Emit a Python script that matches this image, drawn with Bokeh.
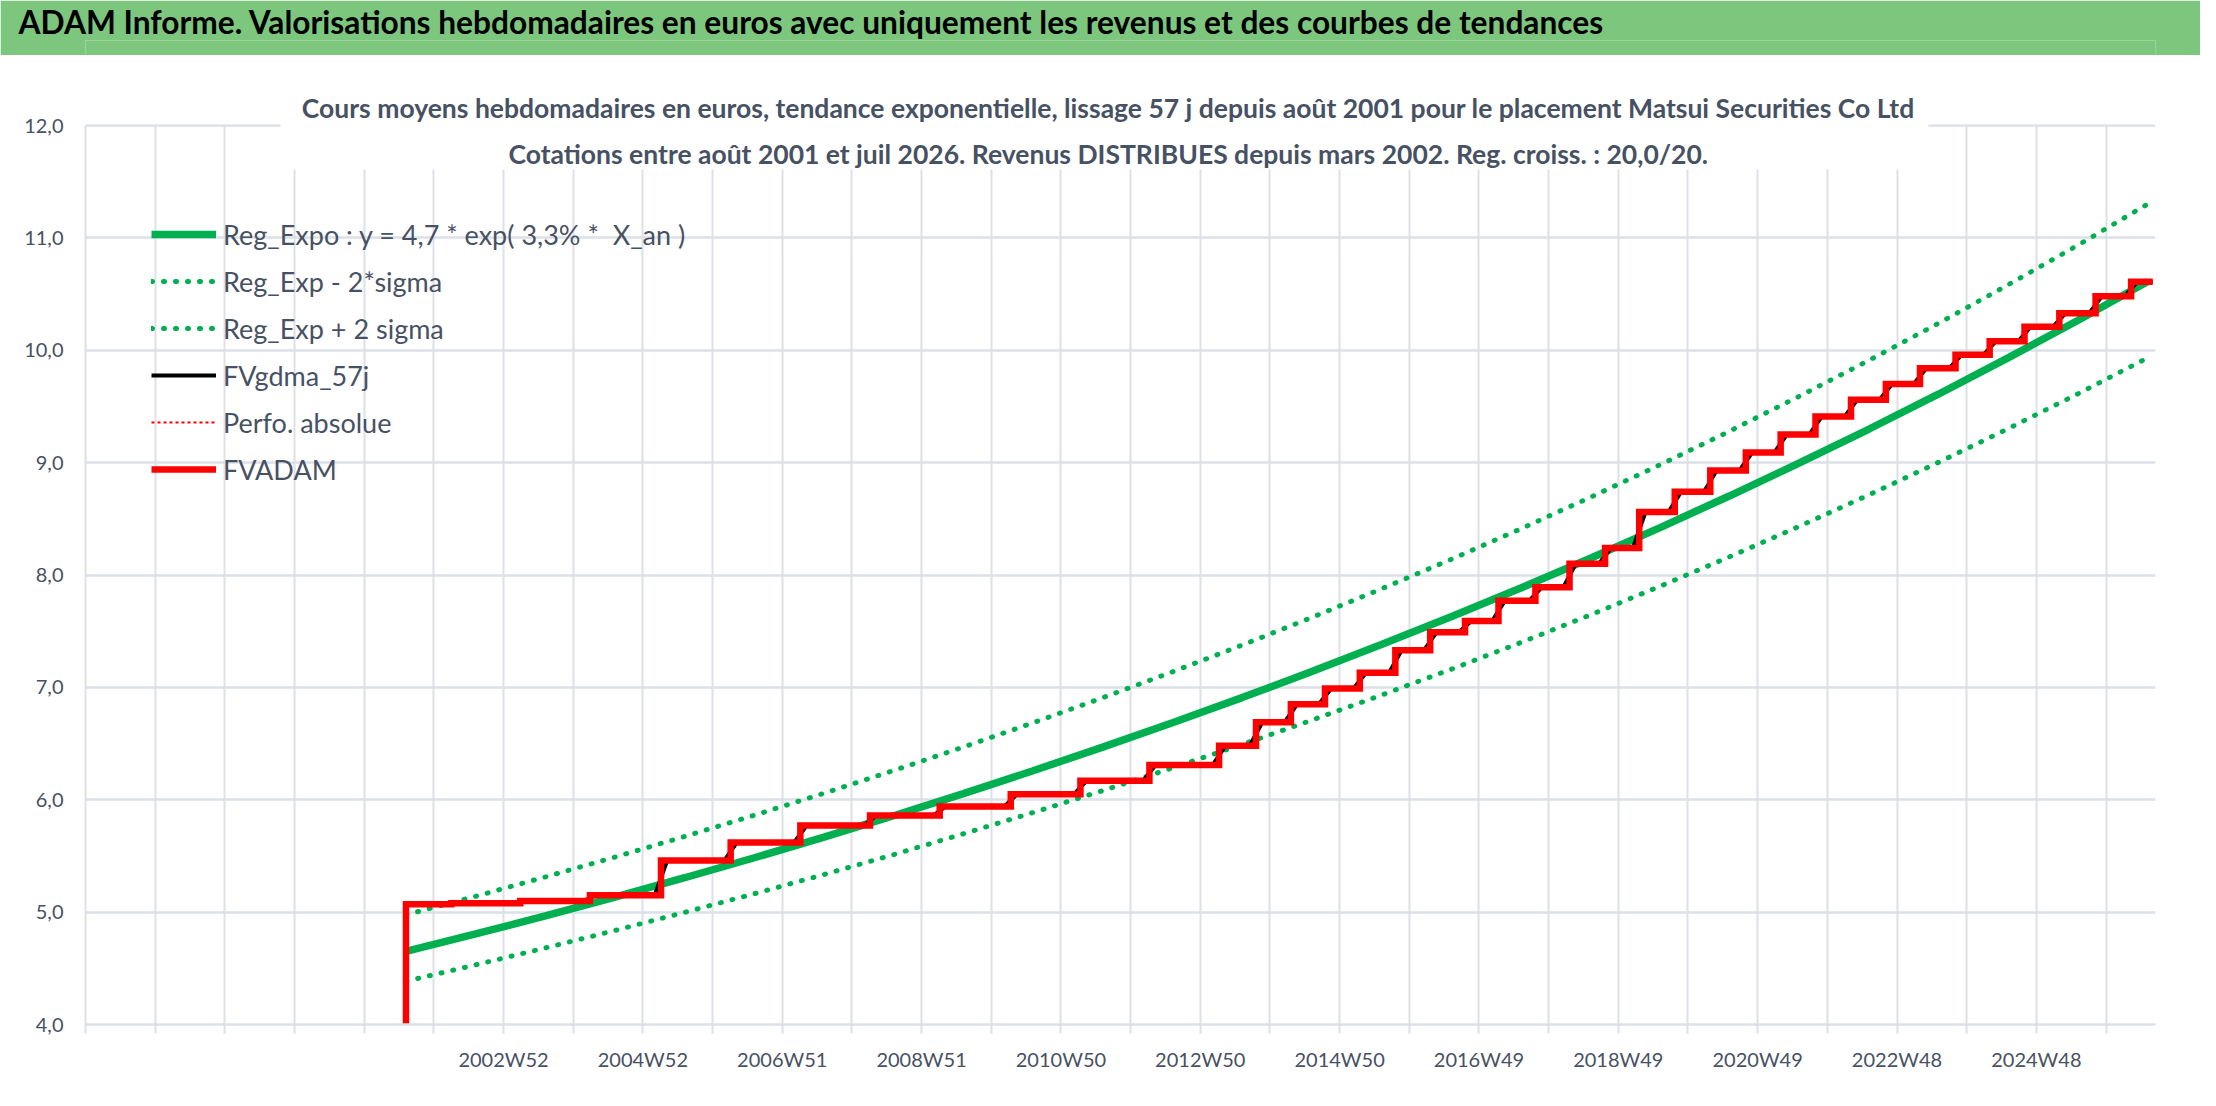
from bokeh.plotting import figure
from bokeh.models import Range1d, FixedTicker, Label, BoxAnnotation, Legend, LegendItem
from bokeh.layouts import column
from bokeh.embed import file_html
from bokeh.resources import INLINE

# ---------------- texts ----------------
HEADER = "ADAM Informe. Valorisations hebdomadaires en euros avec uniquement les revenus et des courbes de tendances"
TITLE_1 = ("Cours moyens hebdomadaires en euros, tendance exponentielle, lissage 57 j depuis août 2001 "
           "pour le placement Matsui Securities Co Ltd")
TITLE_2 = "Cotations entre août 2001 et juil 2026. Revenus DISTRIBUES depuis mars 2002. Reg. croiss. : 20,0/20."

# ---------------- axes ----------------
y_ticks = [4, 5, 6, 7, 8, 9, 10, 11, 12]
y_tick_labels = ["4,0", "5,0", "6,0", "7,0", "8,0", "9,0", "10,0", "11,0", "12,0"]
x_grid_years = [1997, 1998, 1999, 2000, 2001, 2002, 2003, 2004, 2005, 2006, 2007, 2008, 2009, 2010,
                2011, 2012, 2013, 2014, 2015, 2016, 2017, 2018, 2019, 2020, 2021, 2022, 2023, 2024,
                2025, 2026]
x_label_years = [2003, 2005, 2007, 2009, 2011, 2013, 2015, 2017, 2019, 2021, 2023, 2025]
x_tick_labels = ["2002W52", "2004W52", "2006W51", "2008W51", "2010W50", "2012W50", "2014W50",
                 "2016W49", "2018W49", "2020W49", "2022W48", "2024W48"]

# ---------------- series (years as decimal) ----------------
trend_years = [2001.6, 2002.6, 2003.6, 2004.6, 2005.6, 2006.6, 2007.6, 2008.6, 2009.6, 2010.6,
               2011.6, 2012.6, 2013.6, 2014.6, 2015.6, 2016.6, 2017.6, 2018.6, 2019.6, 2020.6,
               2021.6, 2022.6, 2023.6, 2024.6, 2025.6, 2026.6]
reg_expo = [4.650, 4.806, 4.967, 5.134, 5.306, 5.484, 5.668, 5.858, 6.055, 6.258,
            6.468, 6.685, 6.909, 7.141, 7.381, 7.628, 7.884, 8.149, 8.422, 8.705,
            8.997, 9.299, 9.611, 9.934, 10.267, 10.612]
reg_upper = [4.976, 5.141, 5.313, 5.490, 5.673, 5.862, 6.058, 6.260, 6.469, 6.685,
             6.908, 7.138, 7.376, 7.622, 7.877, 8.139, 8.411, 8.692, 8.981, 9.281,
             9.591, 9.911, 10.241, 10.584, 10.936, 11.302]
reg_lower = [4.385, 4.531, 4.681, 4.837, 4.998, 5.164, 5.335, 5.512, 5.697, 5.886,
             6.081, 6.283, 6.492, 6.708, 6.931, 7.161, 7.399, 7.645, 7.900, 8.163,
             8.434, 8.714, 9.004, 9.304, 9.613, 9.933]

fv_years = [2001.60, 2001.60, 2002.25, 2003.24, 2004.24, 2005.26, 2006.26, 2007.26, 2008.26,
            2009.26, 2010.28, 2011.28, 2012.27, 2013.27, 2013.80, 2014.30, 2014.79, 2015.29,
            2015.80, 2016.30, 2016.80, 2017.28, 2017.81, 2018.30, 2018.81, 2019.30, 2019.81,
            2020.32, 2020.83, 2021.33, 2021.83, 2022.34, 2022.84, 2023.33, 2023.84, 2024.33,
            2024.83, 2025.33, 2025.85, 2026.36, 2026.67]
fv_values = [0.00, 5.07, 5.08, 5.10, 5.15, 5.46, 5.62, 5.77, 5.86,
             5.94, 6.05, 6.17, 6.31, 6.48, 6.69, 6.85, 6.99, 7.13,
             7.33, 7.49, 7.59, 7.77, 7.89, 8.10, 8.24, 8.56, 8.74,
             8.93, 9.09, 9.25, 9.41, 9.56, 9.70, 9.84, 9.96, 10.08,
             10.21, 10.33, 10.48, 10.61, 10.61]

# smoothed (57 days) valuation: same levels, transitions spread around each step
gdma_levels = fv_values[1:]
gdma_steps = fv_years[1:]
gdma_half_window = 0.09
gdma_x, gdma_y = [gdma_steps[0]], [gdma_levels[0]]
for i in range(1, len(gdma_steps) - 1):
    gdma_x += [gdma_steps[i] - gdma_half_window, gdma_steps[i] + gdma_half_window]
    gdma_y += [gdma_levels[i - 1], gdma_levels[i]]
gdma_x.append(gdma_steps[-1])
gdma_y.append(gdma_levels[-1])

# ---------------- styles ----------------
FONT = "Lato"
TXT = "#475164"
GRID = "#DCE0E7"
GREEN = "#00B050"
RED = "#FF0000"
HEADER_GREEN = "#7DC67E"

# ---------------- header (green band, title text in the title panel) ----------------
h = figure(width=2200, height=55, x_range=Range1d(0, 1), y_range=Range1d(0, 1),
           output_backend="svg", toolbar_location=None,
           min_border_left=85, min_border_right=45, min_border_top=10, min_border_bottom=0,
           x_axis_location=None, y_axis_location=None)
h.grid.visible = False
h.outline_line_color = None
h.background_fill_color = HEADER_GREEN
h.border_fill_color = HEADER_GREEN
h.title.text = HEADER
h.title.align = "left"
h.title.offset = -67
h.title.standoff = 0
h.title.text_font = FONT
h.title.text_font_style = "bold"
h.title.text_font_size = "31.7px"
h.title.text_color = "#000000"

# ---------------- main chart ----------------
PX_PER_UNIT = 112.375
p = figure(width=2200, height=1035, x_range=Range1d(1997.0, 2026.71),
           y_range=Range1d(4, 4 + 954 / PX_PER_UNIT),
           output_backend="svg", toolbar_location=None,
           min_border_left=85, min_border_right=45, min_border_top=15, min_border_bottom=66)
p.outline_line_color = None
p.background_fill_color = "white"
p.border_fill_color = "white"

yt = FixedTicker(ticks=y_ticks)
p.yaxis.ticker = yt
p.ygrid.ticker = yt
p.yaxis.major_label_overrides = dict(zip(y_ticks, y_tick_labels))
p.yaxis.bounds = (4, 12)
p.yaxis.axis_line_color = GRID
p.yaxis.axis_line_width = 2
p.yaxis.major_tick_line_color = None
p.yaxis.minor_tick_line_color = None
p.yaxis.major_label_standoff = 16
p.yaxis.major_label_text_font = FONT
p.yaxis.major_label_text_font_size = "20px"
p.yaxis.major_label_text_color = TXT

xt = FixedTicker(ticks=x_grid_years)
p.xaxis.ticker = xt
p.xgrid.ticker = xt
x_over = {yr: "" for yr in x_grid_years}
x_over.update(dict(zip(x_label_years, x_tick_labels)))
p.xaxis.major_label_overrides = x_over
p.xaxis.axis_line_color = GRID
p.xaxis.axis_line_width = 2.5
p.xaxis.major_tick_line_color = GRID
p.xaxis.major_tick_line_width = 2
p.xaxis.major_tick_out = 9
p.xaxis.major_tick_in = 0
p.xaxis.minor_tick_line_color = None
p.xaxis.major_label_standoff = 13
p.xaxis.major_label_text_font = FONT
p.xaxis.major_label_text_font_size = "20px"
p.xaxis.major_label_text_color = TXT

p.ygrid.grid_line_color = GRID
p.ygrid.grid_line_width = 2.5
p.ygrid.bounds = (3.9, 12.1)
p.xgrid.grid_line_color = GRID
p.xgrid.grid_line_width = 2
p.xgrid.bounds = (1996.9, 2027.0)

r_low = p.line(trend_years, reg_lower, line_color=GREEN, line_width=5, line_dash="1 11", line_cap="round")
r_up = p.line(trend_years, reg_upper, line_color=GREEN, line_width=5, line_dash="1 11", line_cap="round")
r_reg = p.line(trend_years, reg_expo, line_color=GREEN, line_width=7.5)
r_gdma = p.line(gdma_x, gdma_y, line_color="#000000", line_width=4)
r_perf = p.step(fv_years, fv_values, mode="after", line_color=RED, line_width=2, line_dash="3 3")
r_fv = p.step(fv_years, fv_values, mode="after", line_color=RED, line_width=6.5, line_join="miter")

# white strip above the 12,0 gridline and white box behind the chart title (hide gridlines)
p.add_layout(BoxAnnotation(bottom=12.012, fill_color="white", fill_alpha=1.0, line_color=None))
p.add_layout(BoxAnnotation(left=1999.80, right=2023.45, bottom=11.608, top=12.02,
                           fill_color="white", fill_alpha=1.0, line_color=None))
for txt, yv in ((TITLE_1, 12.16), (TITLE_2, 11.742)):
    p.add_layout(Label(x=2011.68, y=yv, text=txt, text_align="center", text_baseline="alphabetic",
                       text_font=FONT, text_font_style="bold", text_font_size="26.5px", text_color=TXT))

legend = Legend(items=[
    LegendItem(label="Reg_Expo : y = 4,7 * exp( 3,3% *  X_an )", renderers=[r_reg]),
    LegendItem(label="Reg_Exp - 2*sigma", renderers=[r_low]),
    LegendItem(label="Reg_Exp + 2 sigma", renderers=[r_up]),
    LegendItem(label="FVgdma_57j", renderers=[r_gdma]),
    LegendItem(label="Perfo. absolue", renderers=[r_perf]),
    LegendItem(label="FVADAM", renderers=[r_fv]),
], location=(66, 535))
legend.label_text_font = FONT
legend.label_text_font_size = "27px"
legend.label_text_color = TXT
legend.glyph_width = 65
legend.glyph_height = 20
legend.label_height = 40
legend.spacing = 7
legend.padding = 0
legend.margin = 0
legend.label_standoff = 7
legend.border_line_color = None
legend.background_fill_alpha = 0
p.add_layout(legend)

page = column(h, p, spacing=0)
open("out.html", "w").write(file_html(page, INLINE))
